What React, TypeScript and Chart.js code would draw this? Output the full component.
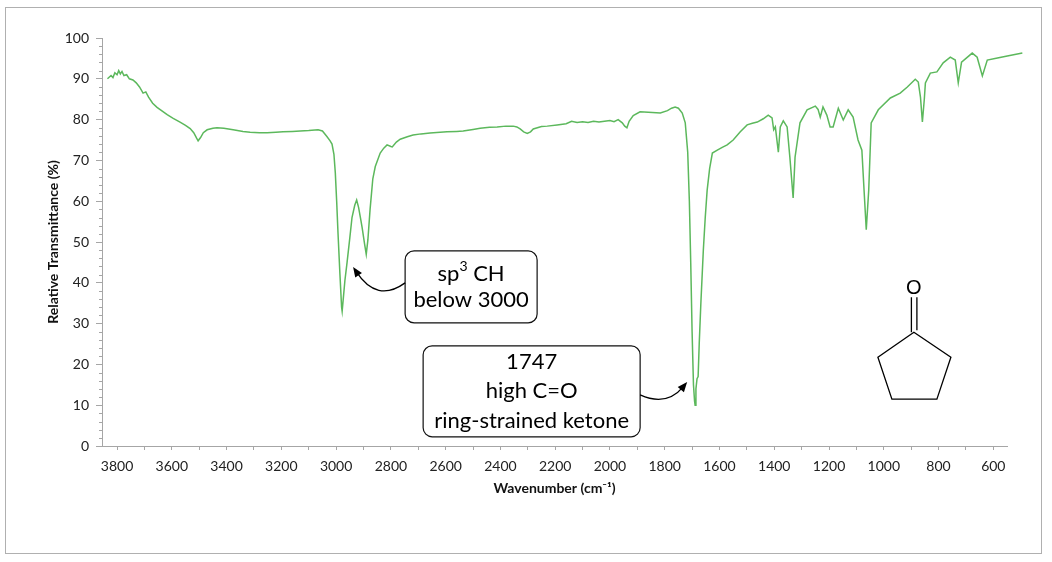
import React, { useEffect, useRef } from "react";
import Chart from "chart.js/auto";

// IR spectrum of cyclopentanone
const WAVENUMBER = [
  3835, 3822, 3815, 3808, 3800, 3794, 3788, 3782, 3775, 3765, 3755, 3742, 3730, 3718, 3705, 3695, 3685, 3670, 3654, 3640,
  3617, 3595, 3570, 3550, 3533, 3520, 3510, 3504, 3495, 3485, 3471, 3450, 3435, 3410, 3376, 3340, 3314, 3280, 3252, 3220,
  3194, 3160, 3131, 3100, 3066, 3050, 3033, 3022, 3015, 3008, 3003, 2998, 2993, 2986, 2980, 2978, 2974, 2968, 2960, 2950,
  2942, 2932, 2925, 2918, 2910, 2905, 2896, 2890, 2884, 2876, 2866, 2857, 2839, 2826, 2814, 2800, 2795, 2780, 2766, 2740,
  2719, 2690, 2657, 2620, 2595, 2560, 2536, 2500, 2474, 2440, 2412, 2380, 2353, 2340, 2328, 2315, 2302, 2290, 2280, 2250,
  2229, 2193, 2160, 2140, 2120, 2100, 2080, 2060, 2040, 2020, 2000, 1985, 1970, 1955, 1946, 1938, 1930, 1915, 1890, 1860,
  1816, 1790, 1775, 1762, 1750, 1736, 1725, 1716, 1710, 1705, 1700, 1695, 1691, 1689, 1686, 1682, 1678, 1674, 1668, 1659,
  1652, 1645, 1636, 1626, 1608, 1590, 1572, 1550, 1524, 1499, 1480, 1462, 1440, 1422, 1408, 1402, 1396, 1385, 1378, 1367,
  1353, 1343, 1331, 1324, 1306, 1280, 1250, 1240, 1232, 1222, 1208, 1196, 1185, 1166, 1148, 1130, 1112, 1094, 1080, 1072,
  1064, 1055, 1046, 1020, 976, 940, 914, 885, 874, 866, 859, 852, 848, 830, 806, 783, 757, 739, 728, 716,
  677, 659, 640, 622, 585, 549, 494,
];
const TRANSMITTANCE = [
  90.0, 90.8, 90.3, 91.5, 91.0, 92.0, 91.2, 91.8, 90.8, 91.0, 90.0, 89.7, 89.0, 88.0, 86.5, 86.8, 85.5, 84.0, 83.0, 82.3,
  81.2, 80.3, 79.4, 78.6, 77.8, 76.8, 75.5, 74.8, 75.6, 76.8, 77.5, 77.9, 78.0, 77.9, 77.5, 77.1, 76.9, 76.8, 76.8, 76.9,
  77.0, 77.1, 77.2, 77.3, 77.5, 77.2, 75.8, 74.8, 74.0, 71.5, 67.0, 60.0, 52.0, 42.0, 34.0, 33.0, 36.0, 40.5, 45.0, 51.0,
  56.0, 59.0, 60.3, 58.5, 55.5, 53.5, 49.5, 47.0, 50.5, 58.0, 65.5, 68.5, 71.8, 73.0, 73.8, 73.4, 73.3, 74.5, 75.2, 75.8,
  76.2, 76.5, 76.7, 76.9, 77.0, 77.1, 77.2, 77.6, 77.9, 78.1, 78.2, 78.4, 78.4, 78.2, 77.7, 77.0, 76.6, 77.0, 77.7, 78.3,
  78.4, 78.7, 79.0, 79.6, 79.3, 79.5, 79.3, 79.6, 79.4, 79.6, 79.8, 79.5, 80.0, 79.2, 78.4, 78.0, 79.6, 81.0, 81.9, 81.8,
  81.6, 82.2, 82.8, 83.1, 82.8, 81.6, 79.2, 72.0, 60.0, 45.0, 28.0, 15.0, 11.0, 10.0, 14.0, 16.5, 17.0, 25.0, 35.0, 48.0,
  56.0, 62.7, 68.0, 71.8, 72.5, 73.2, 73.8, 75.0, 77.0, 78.7, 79.1, 79.4, 80.2, 81.1, 80.4, 77.5, 78.2, 72.0, 78.2, 79.7,
  78.2, 70.8, 60.8, 70.8, 79.2, 82.4, 83.3, 82.5, 80.6, 83.1, 81.1, 78.2, 78.2, 82.8, 79.9, 82.4, 80.6, 75.0, 72.5, 62.7,
  53.0, 62.7, 79.2, 82.4, 85.3, 86.5, 88.0, 89.9, 89.2, 85.5, 79.4, 85.0, 89.0, 91.4, 91.7, 93.9, 95.3, 94.6, 89.0, 94.1,
  96.3, 95.3, 90.7, 94.6, 95.1, 95.6, 96.3,
];

const X_TICKS = [
  3800, 3700, 3600, 3500, 3400, 3300, 3200, 3100, 3000, 2900, 2800, 2700, 2600, 2500, 2400, 2300, 2200,
  2100, 2000, 1900, 1800, 1700, 1600, 1500, 1400, 1300, 1200, 1100, 1000, 900, 800, 700, 600,
];
const X_TICK_LABELS = [3800, 3600, 3400, 3200, 3000, 2800, 2600, 2400, 2200, 2000, 1800, 1600, 1400, 1200, 1000, 800, 600];
const Y_TICK_LABELS = [0, 10, 20, 30, 40, 50, 60, 70, 80, 90, 100];

const FONT = "Lato, 'Open Sans', sans-serif";
const LINE_GREEN = "#5cb85c";
const AXIS_GREY = "#a6a6a6";
const NOTE_SIZE = 22;

// callout boxes: centre and arrow ends in data units (wavenumber, %T)
const NOTES = [
  {
    center: [2507, 39],
    width: 132,
    height: 72,
    lineGap: 26,
    lines: [
      [{ t: "sp" }, { t: "3", sup: true }, { t: " CH" }],
      [{ t: "below 3000" }],
    ],
    side: -1,
    startDy: -4,
    bend: [2851, 35.0],
    tip: [2938, 43.9],
  },
  {
    center: [2286, 13.4],
    width: 217,
    height: 91,
    lineGap: 29.5,
    lines: [[{ t: "1747" }], [{ t: "high C=O" }], [{ t: "ring-strained ketone" }]],
    side: 1,
    startDy: 3.5,
    bend: [1793, 9.6],
    tip: [1718, 15.7],
  },
];
const STRUCTURE_AT = [890, 27.9]; // carbonyl carbon of the drawing

function roundedBox(ctx, x, y, w, h, r) {
  ctx.beginPath();
  ctx.moveTo(x + r, y);
  ctx.arcTo(x + w, y, x + w, y + h, r);
  ctx.arcTo(x + w, y + h, x, y + h, r);
  ctx.arcTo(x, y + h, x, y, r);
  ctx.arcTo(x, y, x + w, y, r);
  ctx.closePath();
}

function drawLine(ctx, segs, cx, cy) {
  const fontFor = (s) => `${s.sup ? 14 : NOTE_SIZE}px ${FONT}`;
  const widths = segs.map((s) => {
    ctx.font = fontFor(s);
    return ctx.measureText(s.t).width;
  });
  let x = cx - widths.reduce((a, b) => a + b, 0) / 2;
  segs.forEach((s, i) => {
    ctx.font = fontFor(s);
    ctx.fillText(s.t, x, s.sup ? cy - 7 : cy);
    x += widths[i];
  });
}

const notesPlugin = {
  id: "irNotes",
  afterDraw(chart) {
    const { ctx } = chart;
    const { x: xs, y: ys } = chart.scales;
    ctx.save();

    // minor ticks on the y axis
    const left = chart.chartArea.left;
    ctx.strokeStyle = AXIS_GREY;
    ctx.lineWidth = 1;
    for (let i = 0; i < Y_TICK_LABELS.length - 1; i++) {
      for (let k = 1; k < 5; k++) {
        const v = Y_TICK_LABELS[i] + ((Y_TICK_LABELS[i + 1] - Y_TICK_LABELS[i]) * k) / 5;
        const py = Math.round(ys.getPixelForValue(v)) + 0.5;
        ctx.beginPath();
        ctx.moveTo(left - 3, py);
        ctx.lineTo(left, py);
        ctx.stroke();
      }
    }

    ctx.textBaseline = "middle";
    ctx.textAlign = "left";
    NOTES.forEach((n) => {
      const cx = xs.getPixelForValue(n.center[0]);
      const cy = ys.getPixelForValue(n.center[1]);
      const bx = cx - n.width / 2;
      const by = cy - n.height / 2;
      roundedBox(ctx, bx, by, n.width, n.height, 9);
      ctx.fillStyle = "#fff";
      ctx.fill();
      ctx.strokeStyle = "#111";
      ctx.lineWidth = 1.2;
      ctx.stroke();

      ctx.fillStyle = "#000";
      const first = cy - ((n.lines.length - 1) * n.lineGap) / 2;
      n.lines.forEach((segs, i) => drawLine(ctx, segs, cx, first + i * n.lineGap));

      const sx = cx + (n.side * n.width) / 2;
      const sy = cy + n.startDy;
      const qx = xs.getPixelForValue(n.bend[0]);
      const qy = ys.getPixelForValue(n.bend[1]);
      const ex = xs.getPixelForValue(n.tip[0]);
      const ey = ys.getPixelForValue(n.tip[1]);
      const ang = Math.atan2(ey - qy, ex - qx);
      const len = 10;
      const half = 4;
      ctx.strokeStyle = "#000";
      ctx.lineWidth = 1.3;
      ctx.beginPath();
      ctx.moveTo(sx, sy);
      ctx.quadraticCurveTo(qx, qy, ex - Math.cos(ang) * 6, ey - Math.sin(ang) * 6);
      ctx.stroke();
      ctx.beginPath();
      ctx.moveTo(ex, ey);
      ctx.lineTo(ex - len * Math.cos(ang) + half * Math.sin(ang), ey - len * Math.sin(ang) - half * Math.cos(ang));
      ctx.lineTo(ex - len * Math.cos(ang) - half * Math.sin(ang), ey - len * Math.sin(ang) + half * Math.cos(ang));
      ctx.closePath();
      ctx.fill();
    });

    // cyclopentanone skeletal drawing
    const c0x = xs.getPixelForValue(STRUCTURE_AT[0]);
    const c0y = ys.getPixelForValue(STRUCTURE_AT[1]);
    ctx.strokeStyle = "#000";
    ctx.lineWidth = 1.3;
    ctx.beginPath();
    const ring = [[0, 0], [37, 25], [23, 67], [-22, 67], [-36, 25]];
    ring.forEach(([dx, dy], i) => (i ? ctx.lineTo(c0x + dx, c0y + dy) : ctx.moveTo(c0x + dx, c0y + dy)));
    ctx.closePath();
    ctx.stroke();
    ctx.beginPath();
    ctx.moveTo(c0x - 2.5, c0y);
    ctx.lineTo(c0x - 2.5, c0y - 35);
    ctx.moveTo(c0x + 3, c0y - 2);
    ctx.lineTo(c0x + 3, c0y - 35);
    ctx.stroke();
    ctx.font = "20px 'Liberation Sans', Arial, sans-serif";
    ctx.textAlign = "center";
    ctx.fillText("O", c0x, c0y - 44);

    ctx.restore();
  },
};

const IrSpectrumChart = () => {
  const canvasRef = useRef(null);
  const chartRef = useRef(null);

  useEffect(() => {
    if (!canvasRef.current) return;
    if (chartRef.current) chartRef.current.destroy();

    chartRef.current = new Chart(canvasRef.current, {
      type: "line",
      data: {
        datasets: [
          {
            label: "Cyclopentanone",
            data: WAVENUMBER.map((w, i) => ({ x: w, y: TRANSMITTANCE[i] })),
            borderColor: LINE_GREEN,
            borderWidth: 1.5,
            pointRadius: 0,
            fill: false,
            tension: 0,
            clip: false,
          },
        ],
      },
      options: {
        animation: false,
        responsive: true,
        maintainAspectRatio: false,
        layout: { padding: { top: 38, right: 45, bottom: 0, left: 0 } },
        plugins: { legend: { display: false }, tooltip: { enabled: false } },
        scales: {
          x: {
            type: "linear",
            reverse: true,
            min: 550,
            max: 3855,
            afterBuildTicks: (s) => {
              s.ticks = X_TICKS.map((v) => ({ value: v }));
            },
            afterFit: (s) => {
              s.height = 116;
            },
            grid: { drawOnChartArea: false, drawTicks: true, tickLength: 4, color: AXIS_GREY },
            border: { display: true, color: AXIS_GREY, width: 1 },
            ticks: {
              autoSkip: false,
              maxRotation: 0,
              padding: 8,
              color: "#222",
              font: { family: FONT, size: 14 },
              callback: (v) => (X_TICK_LABELS.includes(v) ? String(v) : ""),
            },
            title: {
              display: true,
              text: "Wavenumber (cm⁻¹)",
              color: "#111",
              font: { family: FONT, size: 14, weight: "bold" },
              padding: { top: 0, bottom: 65 },
            },
          },
          y: {
            min: 0,
            max: 100,
            afterBuildTicks: (s) => {
              s.ticks = Y_TICK_LABELS.map((v) => ({ value: v }));
            },
            afterFit: (s) => {
              s.width = 102;
            },
            grid: { drawOnChartArea: false, drawTicks: true, tickLength: 6, color: AXIS_GREY },
            border: { display: true, color: AXIS_GREY, width: 1 },
            ticks: {
              padding: 7,
              color: "#222",
              font: { family: FONT, size: 14 },
              callback: (v) => String(v),
            },
            title: {
              display: true,
              text: "Relative Transmittance (%)",
              color: "#111",
              font: { family: FONT, size: 14, weight: "bold" },
              padding: { top: 45, bottom: 0 },
            },
          },
        },
      },
      plugins: [notesPlugin],
    });

    return () => {
      if (chartRef.current) {
        chartRef.current.destroy();
        chartRef.current = null;
      }
    };
  }, []);

  return (
    <div style={{ position: "fixed", left: 0, top: 0, width: 1052, height: 562, background: "#fff" }}>
      <div
        style={{
          position: "absolute",
          left: 5,
          top: 7,
          width: 1037,
          height: 547,
          boxSizing: "border-box",
          border: "1.5px solid #b0b0b0",
        }}
      />
      <canvas ref={canvasRef} style={{ position: "absolute", left: 0, top: 0 }} />
    </div>
  );
};

export default function App() {
  return <IrSpectrumChart />;
}
